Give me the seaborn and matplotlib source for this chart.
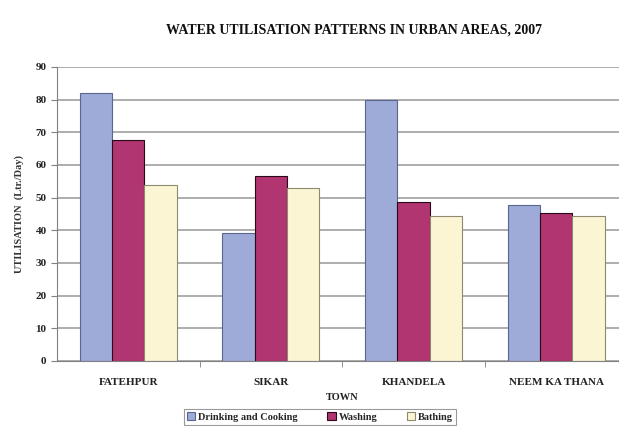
import pandas as pd
import matplotlib.pyplot as plt
import seaborn as sns

towns = ["FATEHPUR", "SIKAR", "KHANDELA", "NEEM KA THANA"]
drinking = [82.1, 39.2, 79.9, 47.7]
washing = [67.6, 56.5, 48.8, 45.4]
bathing = [53.9, 52.9, 44.4, 44.4]
series = ["Drinking and Cooking", "Washing", "Bathing"]
colors = ["#9eaad8", "#b13571", "#fbf5d4"]
edges = ["#5a6590", "#2a0a18", "#8d8a70"]

df = pd.DataFrame({
    "Town": towns * 3,
    "Use": [s for s in series for _ in towns],
    "Value": drinking + washing + bathing,
})

sns.set_style("white")
plt.rcParams["font.family"] = ["Liberation Serif", "DejaVu Serif"]

fig = plt.figure(figsize=(6.19, 4.26), dpi=100)
ax = fig.add_axes([57 / 619, 1 - 361 / 426, 570.5 / 619, 294 / 426])

sns.barplot(data=df, x="Town", y="Value", hue="Use", order=towns, hue_order=series,
            palette=colors, saturation=1, width=0.68, gap=0, ax=ax, legend=False)

for i, cont in enumerate(ax.containers):
    for bar in cont:
        bar.set_edgecolor(edges[i])
        bar.set_linewidth(0.8)

ax.set_xlim(-0.5, 3.5)
ax.set_ylim(0, 90)
ax.set_yticks(range(0, 91, 10))
ax.yaxis.grid(True, color="#a0a0a0", linewidth=1.2)
ax.set_axisbelow(True)
for side in ["top", "right"]:
    ax.spines[side].set_visible(False)
for side in ["left", "bottom"]:
    ax.spines[side].set_color("#808080")
ax.tick_params(axis="y", left=True, length=4, color="#808080", labelsize=8)
ax.tick_params(axis="x", bottom=False, labelsize=8, pad=9)
ax.set_xticks([0.5, 1.5, 2.5], minor=True)
ax.tick_params(axis="x", which="minor", bottom=True, length=4, color="#808080")
for lab in ax.get_xticklabels() + ax.get_yticklabels():
    lab.set_fontweight("bold")
    lab.set_color("#222222")

ax.set_xlabel("")
fig.text(342 / 619, 1 - 397 / 426, "TOWN", fontsize=7.5, fontweight="bold",
         ha="center", va="center", color="#222222")
ax.set_ylabel("UTILISATION  (Ltr./Day)", fontsize=7.5, fontweight="bold", color="#333333")
ax.yaxis.set_label_coords(-0.058, 0.5)

fig.text(354 / 619, 1 - 30 / 426, "WATER UTILISATION PATTERNS IN URBAN AREAS, 2007",
         fontsize=10, fontweight="bold", ha="center", va="center", color="#111111")

handles = [plt.Rectangle((0, 0), 1, 1, facecolor=c, edgecolor=e, linewidth=0.8)
           for c, e in zip(colors, edges)]
leg = fig.legend(handles, series, loc="center", bbox_to_anchor=(320 / 619, 1 - 417 / 426),
                 ncol=3, frameon=True, fancybox=False, handlelength=0.8,
                 handleheight=0.8, handletextpad=0.3, columnspacing=2.8,
                 borderpad=0.3, prop={"weight": "bold", "size": 7.5})
leg.get_frame().set_edgecolor("#808080")
leg.get_frame().set_linewidth(0.8)

fig.savefig("out.png", dpi=100)
